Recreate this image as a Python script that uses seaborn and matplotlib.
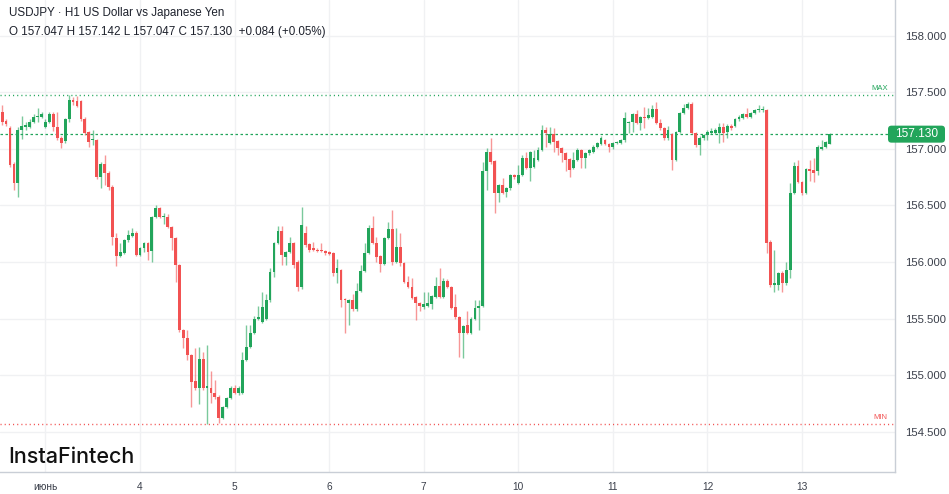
import numpy as np
import pandas as pd
import matplotlib
matplotlib.use("Agg")
import matplotlib.pyplot as plt
import matplotlib.transforms as mtrans
from matplotlib.patches import FancyBboxPatch
import seaborn as sns

sns.set_theme(style="white")
plt.rcParams['font.family'] = ['Liberation Sans', 'DejaVu Sans']

# ---------------- data (USDJPY H1) ----------------
opens = [
    157.31, 157.33, 157.25, 157.18, 156.87, 156.70, 157.17, 157.19, 157.19, 157.24, 157.28, 157.28,
    157.19, 157.24, 157.31, 157.19, 157.10, 157.07, 157.26, 157.43, 157.42, 157.42, 157.26, 157.15,
    157.08, 157.08, 156.75, 156.87, 156.79, 156.66, 156.21, 156.05, 156.08, 156.19, 156.23, 156.26,
    156.06, 156.12, 156.17, 156.10, 156.40, 156.48, 156.40, 156.40, 156.31, 156.21, 155.97, 155.40,
    155.33, 155.18, 154.95, 154.89, 155.14, 154.89, 154.89, 154.84, 154.81, 154.62, 154.72, 154.80,
    154.89, 154.84, 154.84, 155.13, 155.25, 155.37, 155.50, 155.47, 155.50, 155.66, 155.91, 156.17,
    156.27, 156.04, 156.09, 156.17, 156.00, 155.78, 156.26, 156.16, 156.12, 156.11, 156.11, 156.10,
    156.09, 156.08, 155.90, 155.93, 155.67, 155.64, 155.66, 155.58, 155.74, 155.92, 156.08, 156.30,
    156.17, 156.05, 155.98, 156.21, 156.29, 156.00, 156.13, 155.99, 155.82, 155.78, 155.69, 155.64,
    155.60, 155.61, 155.63, 155.69, 155.79, 155.69, 155.83, 155.78, 155.60, 155.51, 155.37, 155.44,
    155.37, 155.50, 155.59, 155.61, 156.80, 156.97, 156.89, 156.61, 156.68, 156.62, 156.65, 156.77,
    156.70, 156.77, 156.92, 156.83, 156.84, 156.90, 156.99, 157.17, 157.05, 157.13, 157.07, 157.01,
    156.96, 156.91, 156.83, 156.90, 156.99, 156.92, 156.96, 156.97, 157.02, 157.04, 157.08, 157.04,
    157.02, 157.05, 157.05, 157.08, 157.23, 157.24, 157.31, 157.23, 157.28, 157.27, 157.28, 157.35,
    157.23, 157.18, 157.10, 157.13, 156.90, 157.15, 157.32, 157.36, 157.40, 157.14, 157.03, 157.10,
    157.12, 157.14, 157.14, 157.14, 157.19, 157.15, 157.20, 157.20, 157.26, 157.27, 157.31, 157.28,
    157.32, 157.34, 157.34, 157.34, 156.18, 155.80, 155.80, 155.90, 155.81, 155.93, 156.61, 156.85,
    156.71, 156.61, 156.82, 156.81, 156.80, 157.00, 157.02, 157.047,
]
highs = [
    157.36, 157.39, 157.26, 157.20, 156.88, 157.19, 157.29, 157.24, 157.26, 157.31, 157.36, 157.33,
    157.26, 157.33, 157.33, 157.33, 157.11, 157.27, 157.48, 157.46, 157.47, 157.43, 157.28, 157.16,
    157.17, 157.09, 156.88, 156.95, 156.80, 156.68, 156.26, 156.17, 156.20, 156.28, 156.30, 156.27,
    156.13, 156.18, 156.18, 156.41, 156.50, 156.49, 156.43, 156.42, 156.32, 156.22, 155.98, 155.41,
    155.40, 155.19, 155.24, 155.25, 155.20, 155.27, 155.04, 154.96, 154.82, 154.73, 154.81, 154.90,
    154.91, 154.90, 155.20, 155.44, 155.44, 155.52, 155.61, 155.73, 155.72, 155.95, 156.18, 156.32,
    156.32, 156.10, 156.22, 156.18, 156.02, 156.49, 156.32, 156.17, 156.18, 156.12, 156.17, 156.11,
    156.10, 156.09, 156.03, 155.94, 155.68, 155.67, 155.72, 155.81, 155.97, 156.17, 156.33, 156.41,
    156.22, 156.06, 156.22, 156.35, 156.46, 156.30, 156.26, 156.00, 155.88, 155.86, 155.70, 155.65,
    155.73, 155.73, 155.71, 155.87, 155.95, 155.86, 155.85, 155.79, 155.72, 155.52, 155.44, 155.57,
    155.51, 155.66, 155.66, 156.88, 157.01, 157.10, 156.90, 156.69, 156.74, 156.66, 156.78, 156.78,
    156.86, 156.95, 156.97, 156.98, 156.99, 157.02, 157.21, 157.19, 157.19, 157.18, 157.08, 157.02,
    156.97, 156.92, 156.97, 157.01, 157.00, 156.97, 157.00, 157.03, 157.06, 157.11, 157.09, 157.05,
    157.06, 157.07, 157.09, 157.33, 157.25, 157.32, 157.34, 157.29, 157.37, 157.36, 157.39, 157.41,
    157.26, 157.19, 157.20, 157.14, 157.16, 157.33, 157.40, 157.41, 157.41, 157.15, 157.11, 157.13,
    157.17, 157.18, 157.18, 157.23, 157.23, 157.22, 157.22, 157.27, 157.30, 157.32, 157.36, 157.33,
    157.35, 157.39, 157.38, 157.35, 156.19, 156.11, 155.91, 155.92, 156.00, 156.70, 156.88, 156.90,
    156.72, 156.83, 156.90, 156.92, 157.03, 157.08, 157.07, 157.142,
]
lows = [
    157.30, 157.21, 157.20, 156.84, 156.64, 156.57, 157.09, 157.17, 157.18, 157.23, 157.24, 157.27,
    157.18, 157.23, 157.16, 157.08, 157.01, 157.05, 157.24, 157.39, 157.37, 157.25, 157.12, 157.02,
    157.03, 156.73, 156.65, 156.68, 156.64, 156.15, 155.96, 156.04, 156.07, 156.18, 156.22, 156.05,
    156.05, 156.09, 156.02, 156.00, 156.39, 156.39, 156.34, 156.30, 156.11, 155.82, 155.38, 155.24,
    155.13, 154.72, 154.87, 154.74, 154.87, 154.57, 154.75, 154.79, 154.58, 154.61, 154.71, 154.79,
    154.83, 154.82, 154.83, 155.12, 155.24, 155.36, 155.49, 155.46, 155.49, 155.65, 155.87, 156.16,
    155.97, 155.97, 156.08, 155.95, 155.74, 155.76, 156.13, 156.09, 156.10, 156.09, 156.09, 156.06,
    156.06, 155.88, 155.81, 155.60, 155.37, 155.44, 155.57, 155.57, 155.73, 155.91, 156.07, 156.16,
    156.00, 155.91, 155.97, 156.20, 155.97, 155.99, 155.96, 155.81, 155.77, 155.67, 155.49, 155.57,
    155.58, 155.60, 155.58, 155.68, 155.68, 155.68, 155.77, 155.58, 155.50, 155.16, 155.15, 155.36,
    155.36, 155.49, 155.40, 155.60, 156.64, 156.87, 156.43, 156.53, 156.60, 156.57, 156.64, 156.73,
    156.69, 156.76, 156.82, 156.72, 156.83, 156.89, 156.98, 157.02, 157.04, 156.97, 156.95, 156.88,
    156.80, 156.75, 156.82, 156.89, 156.83, 156.83, 156.95, 156.96, 157.01, 157.03, 157.03, 156.97,
    157.00, 157.04, 157.04, 157.06, 157.14, 157.15, 157.22, 157.17, 157.18, 157.26, 157.27, 157.22,
    157.17, 157.08, 157.08, 156.81, 156.89, 157.14, 157.31, 157.35, 157.13, 157.02, 156.95, 157.08,
    157.08, 157.13, 157.13, 157.05, 157.06, 157.10, 157.17, 157.19, 157.25, 157.26, 157.27, 157.27,
    157.31, 157.33, 157.33, 156.08, 155.78, 155.73, 155.75, 155.73, 155.80, 155.86, 156.60, 156.70,
    156.59, 156.60, 156.72, 156.71, 156.77, 156.99, 157.01, 157.047,
]
closes = [
    157.34, 157.24, 157.22, 156.86, 156.70, 157.17, 157.20, 157.21, 157.24, 157.28, 157.29, 157.31,
    157.24, 157.31, 157.19, 157.10, 157.05, 157.26, 157.43, 157.41, 157.38, 157.26, 157.14, 157.06,
    157.09, 156.75, 156.87, 156.79, 156.66, 156.22, 156.05, 156.09, 156.19, 156.24, 156.26, 156.06,
    156.12, 156.17, 156.09, 156.40, 156.48, 156.40, 156.41, 156.31, 156.21, 155.97, 155.40, 155.33,
    155.18, 154.94, 154.89, 155.14, 154.89, 154.90, 154.84, 154.81, 154.62, 154.72, 154.80, 154.89,
    154.84, 154.89, 155.13, 155.25, 155.37, 155.50, 155.51, 155.60, 155.66, 155.91, 156.17, 156.27,
    156.06, 156.09, 156.17, 155.97, 155.78, 156.33, 156.15, 156.11, 156.11, 156.10, 156.10, 156.08,
    156.07, 155.90, 155.95, 155.66, 155.66, 155.66, 155.58, 155.74, 155.92, 156.08, 156.30, 156.17,
    156.04, 155.98, 156.21, 156.29, 156.00, 156.13, 155.99, 155.82, 155.78, 155.68, 155.64, 155.61,
    155.63, 155.64, 155.70, 155.79, 155.69, 155.83, 155.78, 155.59, 155.51, 155.37, 155.43, 155.37,
    155.50, 155.59, 155.61, 156.80, 156.97, 156.88, 156.61, 156.68, 156.61, 156.65, 156.77, 156.75,
    156.77, 156.92, 156.83, 156.97, 156.92, 156.99, 157.17, 157.14, 157.13, 157.06, 157.01, 156.96,
    156.90, 156.81, 156.90, 156.99, 156.92, 156.96, 156.99, 157.02, 157.05, 157.10, 157.04, 157.02,
    157.05, 157.06, 157.08, 157.27, 157.24, 157.31, 157.23, 157.28, 157.27, 157.30, 157.35, 157.23,
    157.18, 157.10, 157.17, 156.90, 157.15, 157.32, 157.36, 157.40, 157.14, 157.03, 157.10, 157.12,
    157.15, 157.16, 157.17, 157.19, 157.14, 157.20, 157.18, 157.26, 157.28, 157.31, 157.28, 157.32,
    157.34, 157.35, 157.35, 156.17, 155.80, 155.81, 155.90, 155.81, 155.93, 156.61, 156.85, 156.71,
    156.61, 156.82, 156.80, 156.79, 157.02, 157.02, 157.06, 157.130,
]
day_ticks = [12, 36, 60, 84, 108, 132, 156, 180, 204]
day_labels = ["июнь", "4", "5", "6", "7", "10", "11", "12", "13"]
price_ticks = [154.5, 155.0, 155.5, 156.0, 156.5, 157.0, 157.5, 158.0]
title_line = "USDJPY · H1 US Dollar vs Japanese Yen"
ohlc_line = "O 157.047 H 157.142 L 157.047 C 157.130  +0.084 (+0.05%)"

GREEN = "#22a55b"
RED = "#f25252"
GRID = "#f0f1f3"
AXIS = "#c9ced6"
TEXT = "#1e222d"

df = pd.DataFrame({"idx": np.arange(len(opens)), "open": opens, "high": highs,
                   "low": lows, "close": closes})
df["up"] = df["close"] >= df["open"]
df["color"] = np.where(df["up"], GREEN, RED)
df["bottom"] = df[["open", "close"]].min(axis=1)
df["height"] = (df["close"] - df["open"]).abs().clip(lower=0.009)

W, H = 949, 494
fig = plt.figure(figsize=(W / 100, H / 100), dpi=100)
ax_bottom = 472
ax_right = 895
ax = fig.add_axes([0, 1 - ax_bottom / H, ax_right / W, ax_bottom / H])

# wicks
ax.vlines(df["idx"], df["low"], df["high"], colors=df["color"], linewidth=1.0,
          alpha=0.6, zorder=2)
# bodies
ax.bar(df["idx"], df["height"], bottom=df["bottom"], width=0.72,
       color=df["color"], linewidth=0, zorder=3)

ax.set_xlim(0.457, 227.6)
ax.set_ylim(154.143, 158.316)

ax.set_yticks(price_ticks)
ax.set_yticklabels([f"{p:.3f}" for p in price_ticks])
ax.set_xticks(day_ticks)
ax.set_xticklabels(day_labels)
ax.yaxis.tick_right()
ax.grid(True, color=GRID, linewidth=1.0, zorder=0)
ax.set_axisbelow(True)
ax.tick_params(axis="y", which="both", right=True, length=4, width=1, color=AXIS,
               labelsize=8.2, labelcolor="#3a3f4a", pad=3)
ax.tick_params(axis="x", which="both", bottom=False, length=0,
               labelsize=7.3, labelcolor="#3a3f4a", pad=7)
sns.despine(ax=ax, left=True, top=True, right=False, bottom=False)
for s in ["right", "bottom"]:
    ax.spines[s].set_color(AXIS)
    ax.spines[s].set_linewidth(1.0)

# max / min / last lines
pmax, pmin, plast = max(highs), min(lows), closes[-1]
ax.axhline(pmax, color=GREEN, linewidth=1.0, linestyle=(0, (0.8, 2.2)), zorder=1)
ax.axhline(pmin, color=RED, linewidth=1.0, linestyle=(0, (0.8, 2.2)), zorder=1)
ax.axhline(plast, color=GREEN, linewidth=0.9, linestyle=(0, (2, 2)), zorder=1)
bt = mtrans.blended_transform_factory(ax.transAxes, ax.transData)
ax.text(0.992, pmax + 0.025, "MAX", transform=bt, ha="right", va="bottom",
        fontsize=5.5, color=GREEN)
ax.text(0.992, pmin + 0.025, "MIN", transform=bt, ha="right", va="bottom",
        fontsize=5.5, color=RED)

# last price tag
fig.canvas.draw()
_, ypix = ax.transData.transform((0, plast))
box_x, box_w, box_h = 888, 57, 17
tag = FancyBboxPatch(((box_x) / 100, (ypix - box_h / 2) / 100), box_w / 100, box_h / 100,
                     boxstyle="round,pad=0,rounding_size=0.035",
                     transform=fig.dpi_scale_trans, fc=GREEN, ec="none", zorder=20,
                     clip_on=False)
fig.patches.append(tag)
fig.text((box_x + box_w / 2) / W, ypix / H, f"{plast:.3f}", ha="center", va="center",
         color="white", fontsize=8.6, zorder=21)

# header
fig.text(9 / W, 1 - 13 / H, title_line, ha="left", va="center", fontsize=8.4, color=TEXT)
fig.text(9 / W, 1 - 32 / H, ohlc_line, ha="left", va="center", fontsize=8.4, color=TEXT)

# logo
fig.text(8 / W, 1 - 457 / H, "InstaFintech", ha="left", va="center", fontsize=15.5,
         color="#111111", family=["Inter", "DejaVu Sans"], weight="medium")

fig.savefig("out.png", dpi=100, facecolor="white")
